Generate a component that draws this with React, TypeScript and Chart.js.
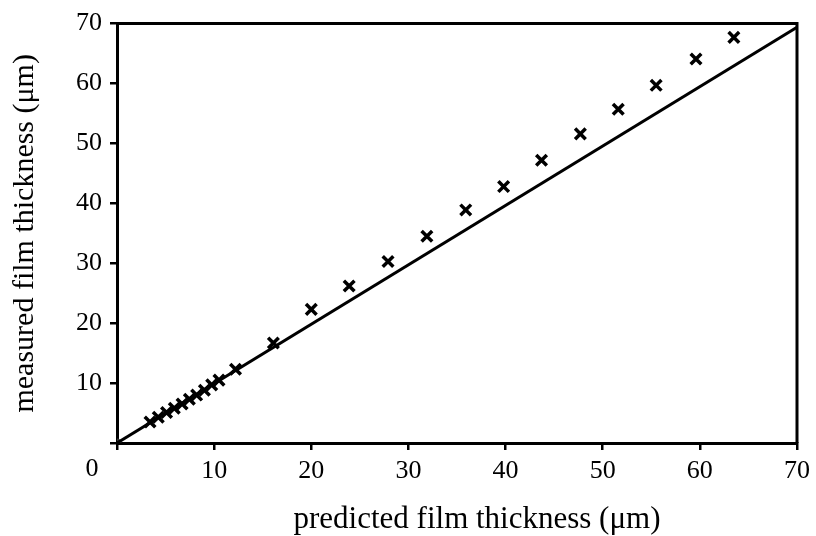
import React, { useEffect, useRef } from "react";
import { Chart, registerables } from "chart.js";

Chart.register(...registerables);

const predicted = [3.4, 4.25, 5.1, 5.9, 6.7, 7.45, 8.2, 9.0, 9.75, 10.5, 12.2, 16.1, 20.0, 23.9, 27.9, 31.9, 35.9, 39.8, 43.7, 47.7, 51.6, 55.5, 59.6, 63.5];
const measured = [3.5, 4.3, 5.1, 5.8, 6.5, 7.3, 8.0, 8.8, 9.7, 10.5, 12.3, 16.7, 22.3, 26.2, 30.3, 34.5, 38.9, 42.8, 47.2, 51.6, 55.7, 59.7, 64.1, 67.7];
const lineX = [0, 70];
const lineY = [0, 69.4];
const xTicks = [0, 10, 20, 30, 40, 50, 60, 70];
const yTicks = [0, 10, 20, 30, 40, 50, 60, 70];
const xTitle = "predicted film thickness (μm)";
const yTitle = "measured film thickness (μm)";
const originLabel = "0";

const FONT = "'Liberation Serif', 'Times New Roman', serif";
const TICK_SIZE = 26;
const TITLE_SIZE = 30;

export default function App() {
  const ref = useRef<HTMLCanvasElement>(null);
  useEffect(() => {
    const canvas = ref.current!;
    const framePlugin = {
      id: "frame",
      afterDraw(chart: any) {
        const { ctx, chartArea } = chart;
        ctx.save();
        ctx.strokeStyle = "#000";
        ctx.lineWidth = 3;
        ctx.beginPath();
        ctx.moveTo(chartArea.left, chartArea.top);
        ctx.lineTo(chartArea.right, chartArea.top);
        ctx.lineTo(chartArea.right, chartArea.bottom);
        ctx.stroke();
        ctx.fillStyle = "#000";
        ctx.textAlign = "center";
        ctx.textBaseline = "middle";
        ctx.font = `${TICK_SIZE}px ${FONT}`;
        ctx.fillText(originLabel, chartArea.left - 25, chartArea.bottom + 26);
        ctx.font = `${TITLE_SIZE + 1}px ${FONT}`;
        ctx.fillText(xTitle, (chartArea.left + chartArea.right) / 2 + 20, chartArea.bottom + 77);
        ctx.restore();
      },
    };
    const chart = new Chart(canvas, {
      type: "scatter",
      data: {
        datasets: [
          {
            type: "line",
            data: lineX.map((x, i) => ({ x, y: lineY[i] })),
            borderColor: "#000",
            borderWidth: 3,
            pointRadius: 0,
            fill: false,
          } as any,
          {
            data: predicted.map((x, i) => ({ x, y: measured[i] })),
            pointStyle: "crossRot",
            pointRadius: 7.5,
            borderColor: "#000",
            borderWidth: 3.5,
            backgroundColor: "#000",
          },
          {
            data: [{ x: lineX[0], y: lineY[0] }],
            pointStyle: "circle",
            pointRadius: 4.5,
            backgroundColor: "#333",
            borderColor: "#333",
            borderWidth: 0,
          },
        ],
      },
      options: {
        animation: false,
        responsive: false,
        layout: { padding: { top: 23, right: 19, left: 0, bottom: 0 } },
        plugins: { legend: { display: false }, tooltip: { enabled: false } },
        scales: {
          x: {
            type: "linear",
            min: 0,
            max: 70,
            afterFit(scale: any) {
              scale.height = 93;
            },
            afterBuildTicks(scale: any) {
              scale.ticks = xTicks.map((v) => ({ value: v }));
            },
            ticks: {
              color: "#000",
              font: { family: FONT, size: TICK_SIZE },
              padding: 6,
              maxRotation: 0,
              callback: (v: any) => (v === 0 ? "" : String(v)),
            },
            grid: { drawOnChartArea: false, drawTicks: true, tickLength: 7, color: "#000", lineWidth: 2.5 },
            border: { color: "#000", width: 3 },
            title: { display: false, text: xTitle },
          },
          y: {
            type: "linear",
            min: 0,
            max: 70,
            afterFit(scale: any) {
              scale.width = 117;
            },
            afterBuildTicks(scale: any) {
              scale.ticks = yTicks.map((v) => ({ value: v }));
            },
            ticks: {
              color: "#000",
              font: { family: FONT, size: TICK_SIZE },
              padding: 8,
              callback: (v: any) => (v === 0 ? "" : String(v)),
            },
            grid: { drawOnChartArea: false, drawTicks: true, tickLength: 7, color: "#000", lineWidth: 2.5 },
            border: { color: "#000", width: 3 },
            title: {
              display: true,
              text: yTitle,
              color: "#000",
              font: { family: FONT, size: TITLE_SIZE, lineHeight: 1 },
              padding: { top: 10, bottom: 0 },
            },
          },
        },
      },
      plugins: [framePlugin],
    } as any);
    return () => chart.destroy();
  }, []);
  return (
    <div style={{ position: "absolute", left: 0, top: 0, width: 816, height: 536, background: "#fff" }}>
      <canvas ref={ref} width={816} height={536} style={{ width: 816, height: 536 }} />
    </div>
  );
}
